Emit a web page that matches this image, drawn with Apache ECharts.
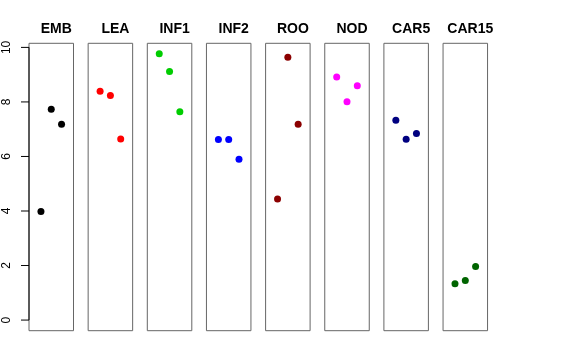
<!DOCTYPE html>
<html><head><meta charset="utf-8">
<script src="https://cdn.jsdelivr.net/npm/echarts@6/dist/echarts.min.js"></script>
<style>html,body{margin:0;padding:0;background:#fff}#c{width:576px;height:360px}</style>
</head><body><div id="c"></div>
<script>
const panels = ['EMB','LEA','INF1','INF2','ROO','NOD','CAR5','CAR15'];
const xPos = [1, 2, 3];
const EMB   = [3.98, 7.73, 7.18];
const LEA   = [8.39, 8.24, 6.64];
const INF1  = [9.77, 9.12, 7.64];
const INF2  = [6.62, 6.62, 5.90];
const ROO   = [4.44, 9.64, 7.18];
const NOD   = [8.91, 8.01, 8.59];
const CAR5  = [7.33, 6.63, 6.84];
const CAR15 = [1.33, 1.45, 1.96];
const values = [EMB, LEA, INF1, INF2, ROO, NOD, CAR5, CAR15];
const colors = ['#000000','#FF0000','#00CD00','#0000FF','#8B0000','#FF00FF','#000080','#006400'];
const yTicks = [0, 2, 4, 6, 8, 10];

const chart = echarts.init(document.getElementById('c'), null, {renderer:'canvas'});
const FONT = '"Liberation Sans", Arial, Helvetica, sans-serif';
const grids = [], xAxes = [], yAxes = [], series = [], titles = [];
const L0 = 29, PITCH = 59.15, W = 44.5, TOP = 43.3, H = 287.4;
const YMIN = -0.39, YMAX = 10.15;
panels.forEach((p, i) => {
  const left = L0 + PITCH * i;
  grids.push({left: left, top: TOP, width: W, height: H, show: true, borderColor: '#666666', borderWidth: 1, backgroundColor: 'transparent'});
  xAxes.push({type: 'value', gridIndex: i, min: -0.16, max: 4.16, show: false});
  yAxes.push({type: 'value', gridIndex: i, min: YMIN, max: YMAX, show: false});
  series.push({type: 'scatter', xAxisIndex: i, yAxisIndex: i, symbol: 'circle', symbolSize: 7,
    itemStyle: {color: colors[i], opacity: 1}, silent: true,
    data: values[i].map((v, k) => [xPos[k], v])});
  titles.push({text: p, left: left + W / 2, top: 17, textAlign: 'center',
    textStyle: {fontFamily: FONT, fontWeight: 'bold', fontSize: 14, color: '#000'}});
});
// axis strip: from tick end (x=21) to the panel edge (x=29), same y scale as panels
const TICK = 8;
grids.push({left: L0 - TICK, top: TOP, width: TICK, height: H, show: false});
xAxes.push({type: 'value', gridIndex: 8, min: 0, max: 1, show: false});
yAxes.push({type: 'value', gridIndex: 8, position: 'left', min: YMIN, max: YMAX,
  axisLine: {show: false}, axisTick: {show: false}, splitLine: {show: false},
  axisLabel: {show: true, rotate: 90, margin: 8, fontFamily: FONT, fontSize: 12, color: '#000',
    customValues: yTicks, formatter: v => String(v)}});
// tick marks, drawn from the tick values through the axis scale
series.push({type: 'scatter', xAxisIndex: 8, yAxisIndex: 8, silent: true, z: 5,
  symbol: 'rect', symbolSize: [TICK, 1], itemStyle: {color: '#000', opacity: 1},
  data: yTicks.map(v => [0.5, v])});
// axis line from first to last tick at the panel's left edge
series.push({type: 'line', xAxisIndex: 8, yAxisIndex: 8, silent: true, z: 5,
  showSymbol: false, symbol: 'none', lineStyle: {color: '#000', width: 1}, clip: false,
  data: [[1, yTicks[0]], [1, yTicks[yTicks.length - 1]]]});

chart.setOption({
  animation: false,
  backgroundColor: '#fff',
  title: titles,
  grid: grids,
  xAxis: xAxes,
  yAxis: yAxes,
  series: series
});
</script></body></html>
